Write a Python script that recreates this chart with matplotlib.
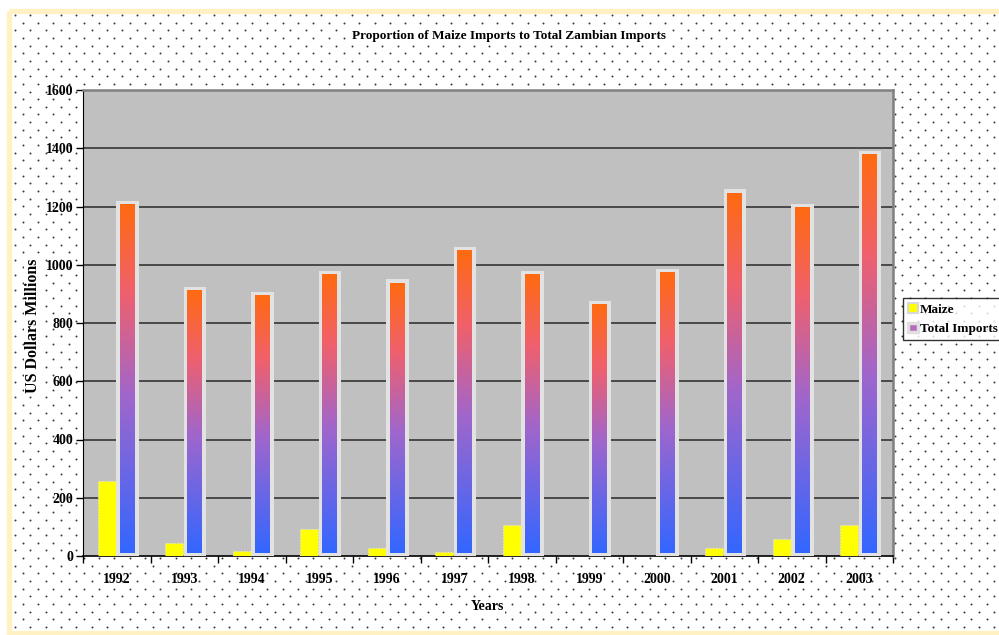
import numpy as np
import matplotlib
matplotlib.use("Agg")
import matplotlib.pyplot as plt
from matplotlib.colors import LinearSegmentedColormap
from matplotlib.patches import Rectangle, Patch

years = ['1992', '1993', '1994', '1995', '1996', '1997',
         '1998', '1999', '2000', '2001', '2002', '2003']
maize = [257, 46, 18, 94, 27, 14, 106, 0, 0, 26, 58, 105]
total_imports = [1205, 910, 893, 965, 937, 1047, 965, 862, 972, 1246, 1195, 1377]
yticks = [0, 200, 400, 600, 800, 1000, 1200, 1400, 1600]

W, H = 999, 635
serif = ['Liberation Serif', 'DejaVu Serif']
plt.rcParams['font.family'] = serif

fig = plt.figure(figsize=(W / 100, H / 100), dpi=100)

# page background: light yellow frame with a staggered dot pattern
bg = fig.add_axes([0, 0, 1, 1], zorder=-2)
bg.set_xlim(0, W)
bg.set_ylim(H, 0)
bg.axis('off')
bg.add_patch(Rectangle((9, 10.5), 1100, 622, fill=False,
                       edgecolor='#fff1c2', linewidth=3.8))
step = 15.3
dx, dy = [], []
row = 0
y = 15.0
while y < 628:
    x = 15.0 + (step / 2 if row % 2 else 0)
    while x < W:
        dx.append(x)
        dy.append(y)
        x += step
    y += step / 2
    row += 1
bg.scatter(dx, dy, s=2.0, c='#383838', linewidths=0)

ax = fig.add_axes([83 / W, 1 - 556 / H, 810 / W, 466 / H])
ax.set_facecolor('#c0c0c0')
ax.set_xlim(-0.5, 11.5)
ax.set_ylim(0, 1600)

for v in yticks[1:-1]:
    ax.axhline(v, color='#404040', linewidth=1.3, zorder=1)

cmap = LinearSegmentedColormap.from_list(
    'imports', [(0.0, '#3366ff'), (0.45, '#a066cc'), (0.75, '#f0606c'), (1.0, '#ff6a10')])
grad = np.linspace(0, 1, 256).reshape(-1, 1)

xs = np.arange(len(years))
ax.bar(xs - 0.148, maize, width=0.27, color='#ffff00', edgecolor='#e8e8e8',
       linewidth=0.8, linestyle=':', zorder=3)

for i, v in enumerate(total_imports):
    ax.add_patch(Rectangle((i - 0.01, 0), 0.335, v + 14, facecolor='#e2e2e2',
                           edgecolor='none', zorder=3))
    ax.imshow(grad, cmap=cmap, origin='lower', aspect='auto',
              extent=(i + 0.045, i + 0.265, 10, v), interpolation='bilinear', zorder=4)

ax.set_xlim(-0.5, 11.5)
ax.set_ylim(0, 1600)

ax.set_yticks(yticks)
ax.set_yticklabels([str(t) for t in yticks], fontsize=10, fontweight='bold')
ax.tick_params(axis='y', length=5, width=1, direction='out', pad=2)
ax.set_xticks(xs)
ax.set_xticklabels(years, fontsize=10, fontweight='bold')
ax.set_xticks(np.arange(-0.5, 12, 1), minor=True)
ax.tick_params(axis='x', which='major', length=0, pad=12)
ax.tick_params(axis='x', which='minor', length=5, width=1, direction='out')

ax.spines['left'].set_color('black')
ax.spines['bottom'].set_color('black')
ax.spines['bottom'].set_linewidth(1.2)
ax.spines['top'].set_color('#808080')
ax.spines['top'].set_linewidth(1.8)
ax.spines['right'].set_color('#808080')
ax.spines['right'].set_linewidth(1.8)

fig.text(509.5 / W, 1 - 36 / H, 'Proportion of Maize Imports to Total Zambian Imports',
         ha='center', va='center', fontsize=9.5, fontweight='bold',
         bbox=dict(facecolor='white', edgecolor='none', pad=1))
fig.text(487 / W, 1 - 606 / H, 'Years', ha='center', va='center',
         fontsize=10, fontweight='bold',
         bbox=dict(facecolor='white', edgecolor='none', pad=1))
fig.text(33 / W, 1 - 326 / H, 'US Dollars Millions', ha='center', va='center',
         rotation=90, fontsize=11.5, fontweight='bold',
         bbox=dict(facecolor='white', edgecolor='none', pad=1))

handles = [Patch(facecolor='#ffff00', edgecolor='#d8d8d8', linewidth=1.5),
           Patch(facecolor='#b868c0', edgecolor='#e0e0e0', linewidth=2.5)]
leg = fig.legend(handles, ['Maize', 'Total Imports'], loc='upper left',
                 bbox_to_anchor=(903 / W, 1 - 298 / H), frameon=True, fancybox=False,
                 prop=dict(family=serif, weight='bold', size=9.5),
                 handlelength=0.7, handleheight=0.7, handletextpad=0.2,
                 borderpad=0.4, labelspacing=0.55, borderaxespad=0)
leg.get_frame().set_edgecolor('black')
leg.get_frame().set_linewidth(1)

fig.savefig('out.png', dpi=100, facecolor='white')
